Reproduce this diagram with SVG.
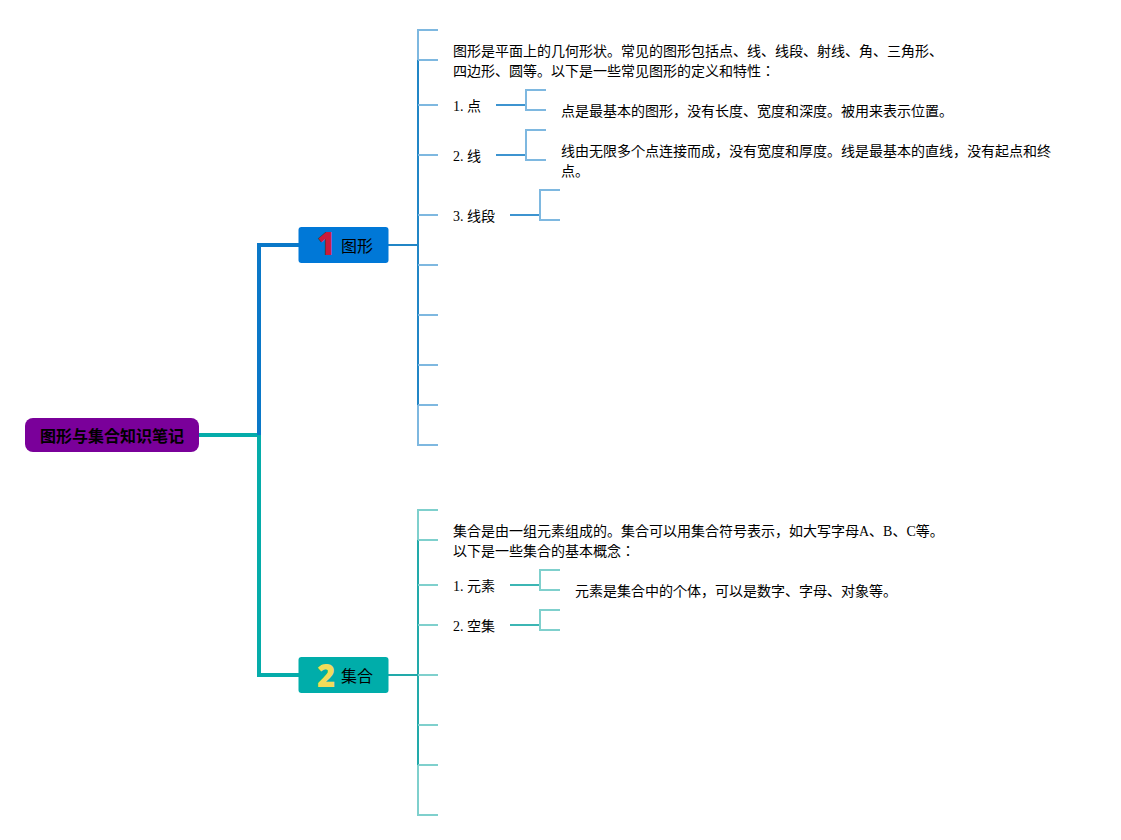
<svg xmlns="http://www.w3.org/2000/svg" width="1121" height="840" viewBox="0 0 1121 840">
<defs>
<style>
text{font-family:"Liberation Serif","Noto Sans CJK JP",serif;font-size:14px;fill:#000}
.root{font-size:16px;font-weight:700}
.branch{font-size:16px}
.num{font-family:"Open Sans",sans-serif;font-weight:800;font-size:31px;text-anchor:middle}
path,line{fill:none}
.t1{stroke:#0a78c8;stroke-width:4}
.t2{stroke:#05acaa;stroke-width:4}
.b1{stroke:#2186c6;stroke-width:2}
.b2{stroke:#22aaaa;stroke-width:2}
.l1{stroke:#7eb8e0;stroke-width:2}
.l2{stroke:#7fd0cd;stroke-width:2}
.m1{stroke:#3d94d0;stroke-width:2}
.m2{stroke:#3cb6b4;stroke-width:2}
</style>
</defs>
<g id="connectors">
<path class="t2" d="M199 435H259V675H299"/>
<path class="t1" d="M259 435V245H299"/>
<path class="b1" d="M388 245H418"/>
<path class="l1" d="M438 30H418V60"/>
<path class="b1" d="M418 60V405"/>
<path class="l1" d="M418 405V445H438"/>
<path class="l1" d="M418 60H438M418 105H438M418 155H438M418 215H438M418 265H438M418 315H438M418 365H438M418 405H438"/>
<path class="m1" d="M496 105H526M496 155H526M510 215H540"/>
<path class="l1" d="M546 90H526V110H546M546 130H526V160H546M560 190H540V220H560"/>
<path class="b2" d="M388 675H418"/>
<path class="l2" d="M438 510H418V540"/>
<path class="b2" d="M418 540V765"/>
<path class="l2" d="M418 765V815H438"/>
<path class="l2" d="M418 540H438M418 585H438M418 625H438M418 675H438M418 725H438M418 765H438"/>
<path class="m2" d="M510 585H540M510 625H540"/>
<path class="l2" d="M560 570H540V590H560M560 610H540V630H560"/>
</g>
<g id="root"><rect x="25" y="418" width="174" height="34" rx="8" fill="#7a009a"/><text class="root" x="40" y="442">图形与集合知识笔记</text></g>
<g id="node-1"><rect x="298.500" y="227" width="90" height="36" rx="3" fill="#0078d7"/><text class="num" x="326" y="255" style="fill:#cc1a3a">1</text><text class="branch" x="341" y="252">图形</text></g>
<g id="node-2"><rect x="298.500" y="657" width="90" height="36" rx="3" fill="#00adaa"/><text class="num" x="326" y="687" style="fill:#f2dc5a">2</text><text class="branch" x="341" y="682">集合</text></g>
<g id="t1-intro"><text x="453" y="56">图形是平面上的几何形状。常见的图形包括点、线、线段、射线、角、三角形、</text><text x="453" y="76">四边形、圆等。以下是一些常见图形的定义和特性：</text></g>
<g id="t1-point"><text x="453" y="111">1. 点</text></g>
<g id="t1-point-def"><text x="561" y="116">点是最基本的图形，没有长度、宽度和深度。被用来表示位置。</text></g>
<g id="t1-line"><text x="453" y="161">2. 线</text></g>
<g id="t1-line-def"><text x="561" y="156">线由无限多个点连接而成，没有宽度和厚度。线是最基本的直线，没有起点和终</text><text x="561" y="176">点。</text></g>
<g id="t1-seg"><text x="453" y="221">3. 线段</text></g>
<g id="t2-intro"><text x="453" y="536">集合是由一组元素组成的。集合可以用集合符号表示，如大写字母A、B、C等。</text><text x="453" y="556">以下是一些集合的基本概念：</text></g>
<g id="t2-elem"><text x="453" y="591">1. 元素</text></g>
<g id="t2-elem-def"><text x="575" y="596">元素是集合中的个体，可以是数字、字母、对象等。</text></g>
<g id="t2-empty"><text x="453" y="631">2. 空集</text></g>
</svg>
